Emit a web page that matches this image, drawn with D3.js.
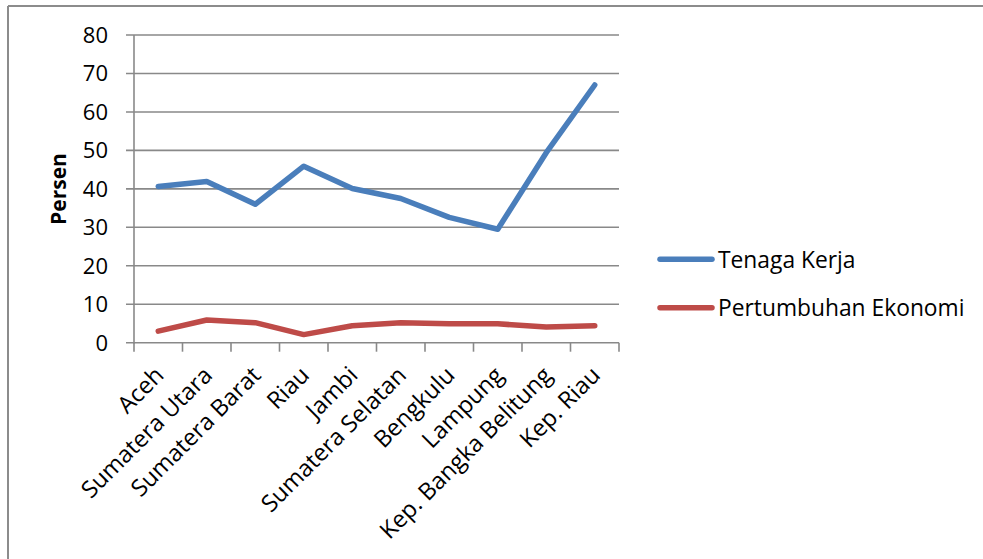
<!DOCTYPE html>
<html>
<head>
<meta charset="utf-8">
<script src="https://cdn.jsdelivr.net/npm/d3@7"></script>
<style>
  html, body { margin: 0; padding: 0; background: #fff; }
  svg { display: block; font-family: "Open Sans", sans-serif; }
</style>
</head>
<body>
<svg id="chart" width="983" height="559"></svg>
<script>
const categories = ["Aceh", "Sumatera Utara", "Sumatera Barat", "Riau", "Jambi", "Sumatera Selatan", "Bengkulu", "Lampung", "Kep. Bangka Belitung", "Kep. Riau"];
const tenagaKerja = [40.6, 41.9, 36.0, 45.9, 40.1, 37.5, 32.6, 29.5, 49.4, 67.0];
const pertumbuhanEkonomi = [3.0, 5.9, 5.2, 2.1, 4.4, 5.2, 4.9, 4.9, 4.1, 4.4];
const yTicks = [0, 10, 20, 30, 40, 50, 60, 70, 80];
const seriesNames = ["Tenaga Kerja", "Pertumbuhan Ekonomi"];
const yTitle = "Persen";

const colors = ["#4a7ebb", "#be4b48"];
const gridColor = "#898989";

const svg = d3.select("#chart");

svg.append("line").attr("x1", 8).attr("x2", 983).attr("y1", 6).attr("y2", 6)
  .attr("stroke", "#8c8c8c").attr("stroke-width", 2);
svg.append("line").attr("x1", 8).attr("x2", 8).attr("y1", 6).attr("y2", 559)
  .attr("stroke", "#8c8c8c").attr("stroke-width", 2);

const plotLeft = 134, plotRight = 619, plotTop = 35, plotBottom = 342.7;

const x = d3.scaleBand().domain(categories).range([plotLeft, plotRight]).padding(0);
const y = d3.scaleLinear().domain([0, 80]).range([plotBottom, plotTop]);

const g = svg.append("g");
g.selectAll(".grid").data(yTicks).enter().append("line")
  .attr("x1", plotLeft - 8).attr("x2", plotRight)
  .attr("y1", d => y(d)).attr("y2", d => y(d))
  .attr("stroke", gridColor).attr("stroke-width", 1.6);

g.append("line").attr("x1", plotLeft).attr("x2", plotLeft).attr("y1", y(80)).attr("y2", plotBottom + 1)
  .attr("stroke", gridColor).attr("stroke-width", 1.6);

const boundaries = categories.map(c => x(c)).concat([x(categories[categories.length - 1]) + x.bandwidth()]);
g.selectAll(".xt").data(boundaries).enter().append("line")
  .attr("x1", d => d).attr("x2", d => d)
  .attr("y1", plotBottom).attr("y2", plotBottom + 9)
  .attr("stroke", gridColor).attr("stroke-width", 1.6);

g.selectAll(".yl").data(yTicks).enter().append("text")
  .attr("x", 108).attr("y", d => y(d)).attr("dy", "0.357em")
  .attr("text-anchor", "end").attr("font-size", 22).attr("fill", "#000")
  .text(d => d);

g.selectAll(".xl").data(categories).enter().append("text")
  .attr("transform", d => `translate(${x(d) + x.bandwidth() / 2 - 5},${plotBottom + 22}) rotate(-45)`)
  .attr("dy", "0.72em")
  .attr("text-anchor", "end").attr("font-size", 23.5).attr("fill", "#000")
  .text(d => d);

svg.append("text")
  .attr("transform", `translate(58.7,189) rotate(-90)`)
  .attr("dy", "0.35em")
  .attr("text-anchor", "middle").attr("font-size", 21).attr("font-weight", "bold")
  .text(yTitle);

const line = d3.line().x((d, i) => x(categories[i]) + x.bandwidth() / 2).y(d => y(d));
[tenagaKerja, pertumbuhanEkonomi].forEach((s, k) => {
  svg.append("path").datum(s).attr("d", line)
    .attr("fill", "none").attr("stroke", colors[k]).attr("stroke-width", 5.5)
    .attr("stroke-linejoin", "round").attr("stroke-linecap", "round");
});

const legendY = [259.3, 307.7];
seriesNames.forEach((n, k) => {
  svg.append("line").attr("x1", 660).attr("x2", 712)
    .attr("y1", legendY[k]).attr("y2", legendY[k])
    .attr("stroke", colors[k]).attr("stroke-width", 5.5).attr("stroke-linecap", "round");
  svg.append("text").attr("x", 718).attr("y", legendY[k]).attr("dy", "0.36em")
    .attr("font-size", 22.8).attr("fill", "#000").text(n);
});
</script>
</body>
</html>
